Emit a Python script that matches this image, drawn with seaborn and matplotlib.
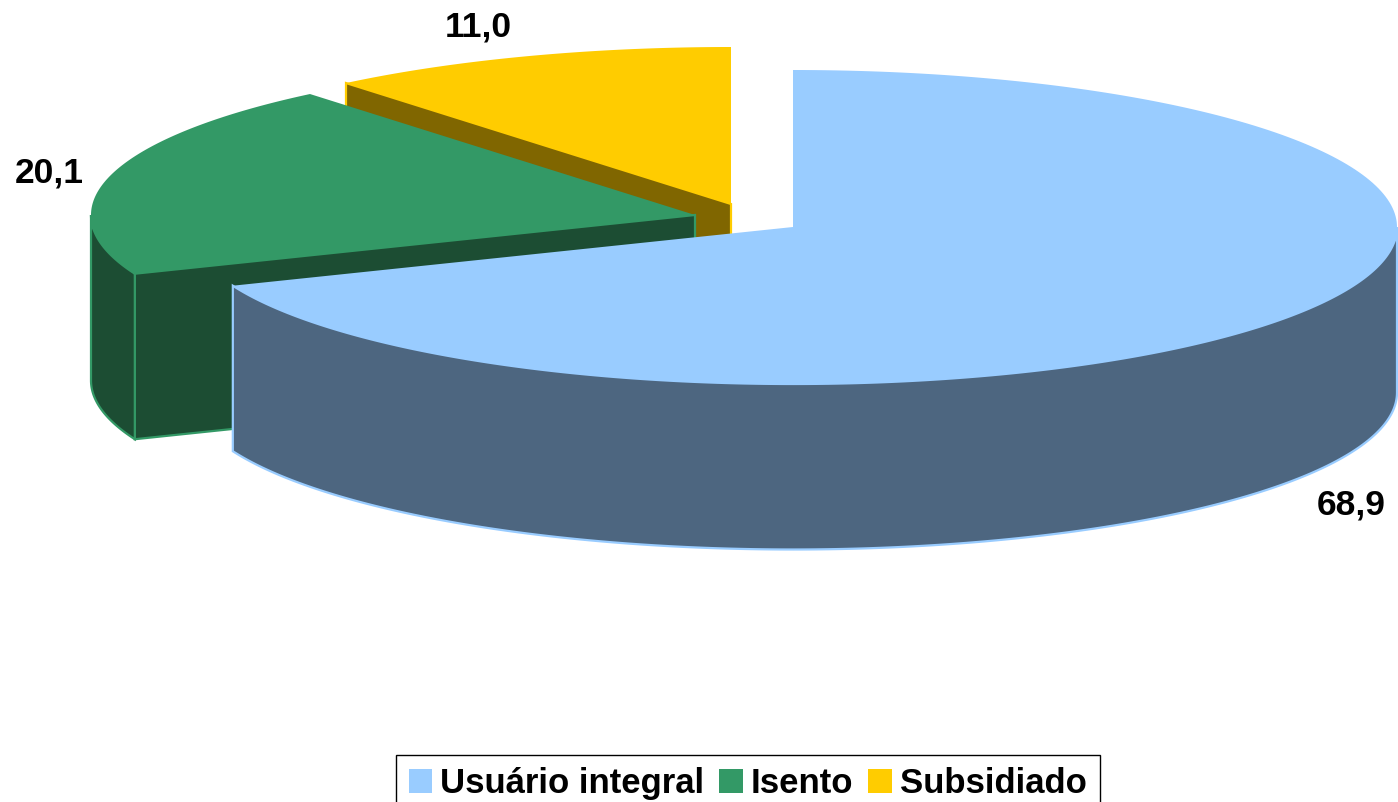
import numpy as np
import matplotlib
matplotlib.use("Agg")
import matplotlib.pyplot as plt
from matplotlib.patches import Polygon, Patch
import seaborn as sns

categories = ["Usuário integral", "Isento", "Subsidiado"]
values = [68.9, 20.1, 11.0]
top_colors = ["#99CCFF", "#339966", "#FFCC00"]
side_colors = ["#4D6680", "#1C4D33", "#806600"]

sns.set_theme(style="white")
plt.rcParams["font.family"] = ["Liberation Sans", "DejaVu Sans"]

# Pie geometry in pixel units of the canvas
RX, RY, DEPTH = 604.0, 157.0, 165.5
centers = [(793, 227), (695, 215), (731, 204)]
label_pos = [(1351, 505.5), (49.5, 172.5), (478, 27.5)]

fig = plt.figure(figsize=(13.98, 8.02), dpi=100)
ax = fig.add_axes([0, 0, 1, 1])
ax.set_xlim(0, 1398)
ax.set_ylim(802, 0)
ax.axis("off")


def rim(c, a0, a1, n=240):
    t = np.radians(np.linspace(a0, a1, n))
    return np.column_stack([c[0] + RX * np.sin(t), c[1] - RY * np.cos(t)])


edges = np.concatenate([[0], np.cumsum(values)]) / np.sum(values) * 360
for i in reversed(range(len(values))):
    a0, a1 = edges[i], edges[i + 1]
    c = centers[i]
    drop = np.array([0, DEPTH])
    base = (len(values) - i) * 3
    # radial cut face at the leading angle, seen only on the rear-left half
    if a0 > 180:
        p = rim(c, a0, a0, 1)[0]
        quad = [c, p, p + drop, np.array(c) + drop]
        ax.add_patch(Polygon(quad, closed=True, fc=side_colors[i],
                             ec=top_colors[i], lw=1.6, joinstyle="miter", zorder=base))
    # outer wall, seen on the front half of the ellipse
    lo, hi = max(a0, 90), min(a1, 270)
    if hi > lo:
        arc = rim(c, lo, hi)
        wall = np.vstack([arc, (arc + drop)[::-1]])
        ax.add_patch(Polygon(wall, closed=True, fc=side_colors[i],
                             ec=top_colors[i], lw=1.6, joinstyle="miter", zorder=base + 1))
    # top face
    arc = rim(c, a0, a1)
    ax.add_patch(Polygon(np.vstack([[c], arc]), closed=True, fc=top_colors[i],
                         ec="none", zorder=base + 2))

for v, (x, y) in zip(values, label_pos):
    ax.text(x, y, f"{v:.1f}".replace(".", ","), ha="center", va="center",
            fontsize=25.5, fontweight="bold", color="black", zorder=30)

handles = [Patch(fc=col, ec="none", label=lab) for col, lab in zip(top_colors, categories)]
leg = ax.legend(handles=handles, ncol=3, loc="upper left",
                bbox_to_anchor=(396 / 1398, 1 - 754.5 / 802), borderaxespad=0,
                prop={"size": 25, "weight": "bold"}, labelcolor="black", frameon=True,
                fancybox=False, edgecolor="black", framealpha=1,
                handlelength=0.68, handleheight=0.68,
                handletextpad=0.24, columnspacing=0.42, borderpad=0.36)
leg.get_frame().set_linewidth(1.0)
leg.set_zorder(40)

fig.savefig("out.png", dpi=100, facecolor="white")
